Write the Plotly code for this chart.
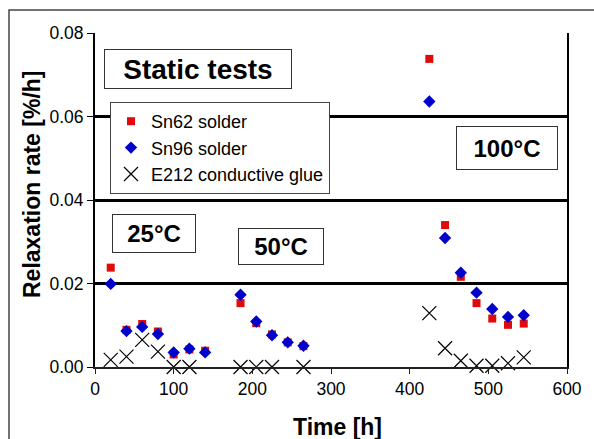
import plotly.graph_objects as go

# Data
time_solder = [20, 40, 60, 80, 100, 120, 140, 185, 205, 225, 245, 265, 425, 445, 465, 485, 505, 525, 545]
sn62 = [0.0238, 0.0089, 0.0103, 0.0085, 0.0030, 0.0042, 0.0039, 0.0153, 0.0105, 0.0078, 0.0059, 0.0050,
        0.0738, 0.0340, 0.0216, 0.0153, 0.0116, 0.0101, 0.0104]
sn96 = [0.0199, 0.0086, 0.0096, 0.0079, 0.0035, 0.0044, 0.0035, 0.0173, 0.0109, 0.0076, 0.0059, 0.0051,
        0.0636, 0.0309, 0.0226, 0.0178, 0.0139, 0.0120, 0.0124]
time_glue = [20, 40, 60, 80, 100, 120, 185, 205, 225, 265, 425, 445, 465, 485, 505, 525, 545]
e212 = [0.0017, 0.0025, 0.0065, 0.0037, 0.0, 0.0, 0.0, 0.0, 0.0, 0.0, 0.0129, 0.0045, 0.0015, 0.0003,
        0.0003, 0.0009, 0.0023]
series_names = ["Sn62 solder", "Sn96 solder", "E212 conductive glue"]
x_ticks = [0, 100, 200, 300, 400, 500, 600]
y_ticks = [0.00, 0.02, 0.04, 0.06, 0.08]

FONT = "Liberation Sans, Arial, sans-serif"

fig = go.Figure()
fig.add_trace(go.Scatter(x=time_solder, y=sn62, mode="markers", name=series_names[0],
                         marker=dict(symbol="square", size=8, color="#e00a0a"), cliponaxis=False))
fig.add_trace(go.Scatter(x=time_solder, y=sn96, mode="markers", name=series_names[1],
                         marker=dict(symbol="diamond", size=9.5, color="#0000cc"), cliponaxis=False))
fig.add_trace(go.Scatter(x=time_glue, y=e212, mode="markers", name=series_names[2],
                         marker=dict(symbol="x-thin-open", size=14, color="black",
                                     line=dict(width=1.2, color="black")), cliponaxis=False))

W, H = 594, 439
L, R, T, B = 95, 27, 33, 72
pw, ph = W - L - R, H - T - B


def px(x):
    return (x - L) / pw


def py(y):
    return (H - B - y) / ph


annotations = []


def box(text, cx, cy, w, h, size):
    annotations.append(dict(text="<b>%s</b>" % text, xref="paper", yref="paper",
                            x=px(cx), y=py(cy), xanchor="center", yanchor="middle",
                            showarrow=False, width=w, height=h, borderpad=0,
                            bordercolor="#333", borderwidth=1, bgcolor="white",
                            font=dict(family=FONT, size=size, color="black")))


box("Static tests", 198, 69, 186, 38, 28)
box("100°C", 507, 148, 100, 42, 24)
box("25°C", 154, 233.5, 82, 37, 24)
box("50°C", 281, 246.5, 84, 35, 24)

annotations.append(dict(text="<b>Relaxation rate [%/h]</b>", xref="paper", yref="paper",
                        x=px(32), y=py(184), xanchor="center", yanchor="middle", textangle=-90,
                        showarrow=False, font=dict(family=FONT, size=23, color="black")))
annotations.append(dict(text="<b>Time [h]</b>", xref="paper", yref="paper",
                        x=px(337), y=py(427), xanchor="center", yanchor="middle",
                        showarrow=False, font=dict(family=FONT, size=23, color="black")))

shapes = [dict(type="rect", xref="paper", yref="paper", x0=px(9), x1=px(600), y0=py(446), y1=py(10),
               line=dict(color="#444", width=1.5), layer="below")]

fig.update_layout(
    width=W, height=H,
    margin=dict(l=L, r=R, t=T, b=B),
    paper_bgcolor="white", plot_bgcolor="white",
    font=dict(family=FONT, size=17, color="black"),
    showlegend=True,
    legend=dict(x=px(110), y=py(102), xanchor="left", yanchor="top",
                bgcolor="white", bordercolor="#444", borderwidth=1,
                font=dict(family=FONT, size=18, color="black"),
                itemwidth=30, tracegroupgap=0),
    annotations=annotations,
    shapes=shapes,
    xaxis=dict(range=[0, 600], tickvals=x_ticks, showgrid=False, zeroline=False,
               showline=True, linecolor="#222", linewidth=2, ticks="outside", ticklen=5,
               tickcolor="#222", tickwidth=1, tickfont=dict(size=17.5)),
    yaxis=dict(range=[0, 0.08], tickvals=y_ticks, tickformat=".2f", showgrid=True,
               gridcolor="black", gridwidth=3, zeroline=False, showline=True, linecolor="black",
               linewidth=2, mirror=True, ticks="outside", ticklen=6, tickcolor="black",
               tickwidth=1, tickfont=dict(size=17.5)),
)

fig.write_html("out.html", config={"displayModeBar": False},
               post_script="document.body.style.margin='0';document.body.style.overflow='hidden';")
